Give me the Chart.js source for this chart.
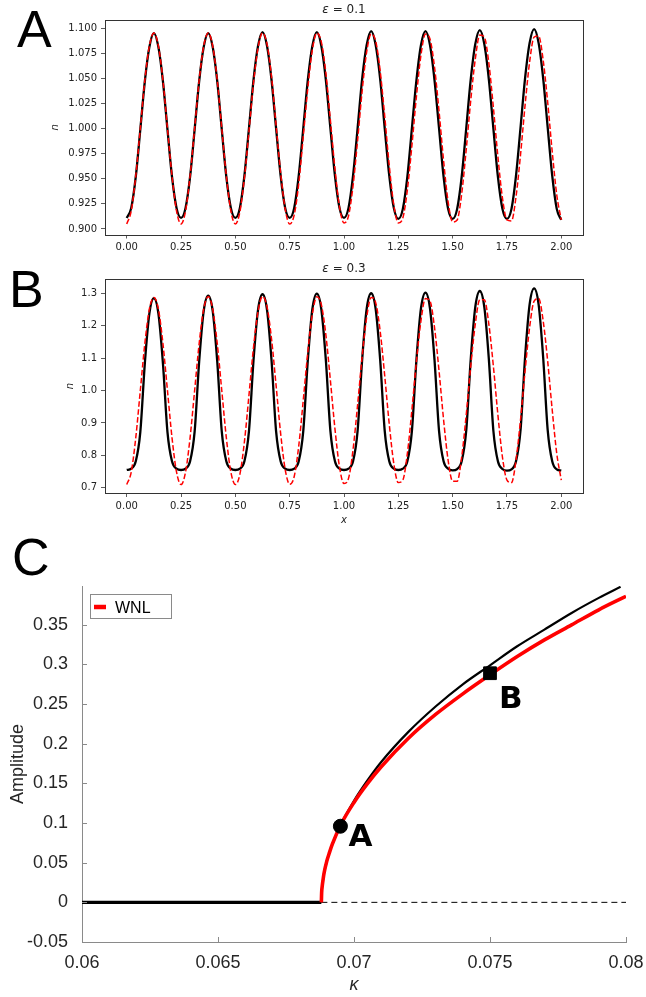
<!DOCTYPE html>
<html>
<head>
<meta charset="utf-8">
<script src="https://cdn.jsdelivr.net/npm/chart.js@4.4.1/dist/chart.umd.min.js"></script>
<style>
    html, body { margin: 0; padding: 0; background: #fff; }
    body { width: 646px; height: 997px; position: relative; overflow: hidden; }
    .panel { position: absolute; left: 0; width: 646px; }
    .letter { position: absolute; font-family: "Liberation Sans", Arial, sans-serif; font-size: 52px; line-height: 52px; color: #000; }
</style>
</head>
<body>
<div class="panel" style="top:0;height:258px"><canvas id="chartA"></canvas></div>
<div class="panel" style="top:258px;height:272px"><canvas id="chartB"></canvas></div>
<div class="panel" style="top:530px;height:467px"><canvas id="chartC"></canvas></div>
<div class="letter" style="left:17px;top:3px">A</div>
<div class="letter" style="left:9px;top:263px">B</div>
<div class="letter" style="left:12px;top:531px">C</div>

<script>
// =============================================
// DATA — panels A and B (n against x)
// =============================================
const xTicks = [0, 0.25, 0.5, 0.75, 1, 1.25, 1.5, 1.75, 2];
const xTickLabels = ['0.00', '0.25', '0.50', '0.75', '1.00', '1.25', '1.50', '1.75', '2.00'];

// sample positions along x, 12 per period (period 0.25)
const xGrid = Array.from({ length: 97 }, (_, i) => i / 48);

// eps = 0.1
const blackA = [
    0.911, 0.921, 0.952, 0.999, 1.047, 1.081, 1.095, 1.081, 1.047, 0.999, 0.952, 0.921,
    0.911, 0.921, 0.952, 0.999, 1.047, 1.081, 1.095, 1.081, 1.047, 0.999, 0.952, 0.921,
    0.911, 0.921, 0.953, 1.000, 1.048, 1.082, 1.096, 1.082, 1.048, 1.000, 0.953, 0.921,
    0.911, 0.921, 0.953, 1.000, 1.048, 1.082, 1.096, 1.082, 1.048, 1.000, 0.953, 0.921,
    0.911, 0.921, 0.953, 1.000, 1.049, 1.083, 1.097, 1.083, 1.049, 1.000, 0.953, 0.921,
    0.910, 0.920, 0.952, 1.000, 1.048, 1.083, 1.097, 1.083, 1.048, 1.000, 0.952, 0.920,
    0.910, 0.920, 0.952, 1.000, 1.049, 1.084, 1.098, 1.084, 1.049, 1.000, 0.952, 0.920,
    0.910, 0.920, 0.953, 1.001, 1.050, 1.085, 1.099, 1.085, 1.050, 1.001, 0.953, 0.920,
    0.909,
];
const redA = [
    0.905, 0.918, 0.953, 1.000, 1.048, 1.082, 1.095, 1.082, 1.048, 1.000, 0.953, 0.918,
    0.905, 0.918, 0.953, 1.000, 1.048, 1.082, 1.095, 1.082, 1.048, 1.000, 0.953, 0.918,
    0.905, 0.917, 0.951, 0.997, 1.045, 1.080, 1.095, 1.084, 1.051, 1.003, 0.956, 0.920,
    0.905, 0.914, 0.945, 0.992, 1.040, 1.078, 1.095, 1.086, 1.055, 1.008, 0.960, 0.922,
    0.906, 0.913, 0.943, 0.988, 1.037, 1.076, 1.094, 1.087, 1.057, 1.012, 0.963, 0.924,
    0.906, 0.911, 0.939, 0.983, 1.032, 1.073, 1.094, 1.089, 1.061, 1.017, 0.968, 0.927,
    0.907, 0.909, 0.935, 0.979, 1.028, 1.069, 1.093, 1.091, 1.065, 1.021, 0.972, 0.931,
    0.909, 0.908, 0.932, 0.974, 1.023, 1.066, 1.091, 1.092, 1.068, 1.026, 0.977, 0.934,
    0.909,
];
const yTicksA = [0.9, 0.925, 0.95, 0.975, 1.0, 1.025, 1.05, 1.075, 1.1];
const yTickLabelsA = ['0.900', '0.925', '0.950', '0.975', '1.000', '1.025', '1.050', '1.075', '1.100'];

// eps = 0.3
const blackB = [
    0.755, 0.759, 0.782, 0.872, 1.084, 1.237, 1.285, 1.237, 1.084, 0.872, 0.782, 0.759,
    0.755, 0.759, 0.782, 0.873, 1.089, 1.245, 1.293, 1.245, 1.089, 0.873, 0.782, 0.759,
    0.755, 0.759, 0.782, 0.874, 1.091, 1.248, 1.297, 1.248, 1.091, 0.874, 0.782, 0.759,
    0.755, 0.759, 0.782, 0.875, 1.092, 1.250, 1.299, 1.250, 1.092, 0.875, 0.782, 0.759,
    0.755, 0.759, 0.782, 0.875, 1.093, 1.251, 1.300, 1.251, 1.093, 0.875, 0.782, 0.759,
    0.755, 0.759, 0.782, 0.875, 1.094, 1.253, 1.302, 1.253, 1.094, 0.875, 0.782, 0.759,
    0.754, 0.758, 0.782, 0.876, 1.097, 1.257, 1.307, 1.257, 1.097, 0.876, 0.782, 0.758,
    0.753, 0.757, 0.782, 0.878, 1.102, 1.265, 1.315, 1.265, 1.102, 0.878, 0.782, 0.757,
    0.753,
];
const redB = [
    0.710, 0.749, 0.855, 1.000, 1.145, 1.251, 1.287, 1.251, 1.145, 1.000, 0.855, 0.749,
    0.710, 0.749, 0.855, 1.000, 1.145, 1.251, 1.290, 1.251, 1.145, 1.000, 0.855, 0.749,
    0.710, 0.742, 0.842, 0.985, 1.132, 1.243, 1.290, 1.258, 1.158, 1.015, 0.868, 0.757,
    0.711, 0.735, 0.829, 0.970, 1.118, 1.235, 1.289, 1.265, 1.171, 1.030, 0.882, 0.765,
    0.713, 0.729, 0.818, 0.955, 1.104, 1.225, 1.287, 1.271, 1.182, 1.045, 0.896, 0.775,
    0.716, 0.724, 0.806, 0.940, 1.090, 1.215, 1.284, 1.276, 1.194, 1.060, 0.910, 0.785,
    0.720, 0.720, 0.795, 0.925, 1.075, 1.205, 1.280, 1.280, 1.205, 1.075, 0.925, 0.795,
    0.724, 0.716, 0.785, 0.910, 1.060, 1.194, 1.276, 1.284, 1.215, 1.090, 0.940, 0.806,
    0.724,
];
const yTicksB = [0.7, 0.8, 0.9, 1.0, 1.1, 1.2, 1.3];
const yTickLabelsB = ['0.7', '0.8', '0.9', '1.0', '1.1', '1.2', '1.3'];

// =============================================
// DATA — panel C (amplitude against kappa)
// =============================================
const kappaStable = [0.06, 0.0688];
const ampStable = [0, 0];
const kappaUnstable = [0.0688, 0.08];
const ampUnstable = [0, 0];

const kappaNum = [0.0688, 0.06881, 0.06883, 0.06886, 0.0689, 0.069, 0.0691, 0.0692, 0.0695, 0.07, 0.0705,
                  0.071, 0.072, 0.073, 0.074, 0.075, 0.076, 0.077, 0.078, 0.079, 0.0798];
const ampNum = [0, 0.012, 0.020, 0.028, 0.037, 0.052, 0.063, 0.073, 0.097, 0.128, 0.154,
                0.177, 0.215, 0.247, 0.275, 0.299, 0.323, 0.344, 0.365, 0.384, 0.398];

const kappaWNL = [0.0688, 0.06881, 0.06883, 0.06886, 0.0689, 0.069, 0.0691, 0.0692, 0.0695, 0.07, 0.0705,
                  0.071, 0.072, 0.073, 0.074, 0.075, 0.076, 0.077, 0.078, 0.079, 0.08];
const ampWNL = [0, 0.012, 0.020, 0.028, 0.037, 0.052, 0.063, 0.073, 0.097, 0.126, 0.150,
                0.171, 0.207, 0.237, 0.263, 0.287, 0.310, 0.331, 0.350, 0.369, 0.386];

const markerKappa = [0.0695, 0.075];
const markerAmp = [0.096, 0.289];
const markerLabels = ['A', 'B'];

const kappaTicks = [0.06, 0.065, 0.07, 0.075, 0.08];
const kappaTickLabels = ['0.06', '0.065', '0.07', '0.075', '0.08'];
const ampTicks = [-0.05, 0, 0.05, 0.1, 0.15, 0.2, 0.25, 0.3, 0.35];
const ampTickLabels = ['-0.05', '0', '0.05', '0.1', '0.15', '0.2', '0.25', '0.3', '0.35'];

const pts = (xs, ys) => ys.map((y, i) => ({ x: xs[i], y }));

// =============================================
// PLUGINS
// =============================================
// matplotlib-like box round the axes
const framePlugin = {
    id: 'frame',
    afterDraw(chart, args, o) {
        if (!o.display) return;
        const { ctx, chartArea: a } = chart;
        ctx.save();
        ctx.strokeStyle = o.color;
        ctx.lineWidth = 1;
        ctx.strokeRect(Math.round(a.left) + 0.5, Math.round(a.top) + 0.5,
            Math.round(a.right - a.left), Math.round(a.bottom - a.top));
        ctx.restore();
    },
};

// "ε = 0.1" style title, centred over the plot area
const epsTitle = {
    id: 'epsTitle',
    afterDraw(chart, args, o) {
        if (!o.symbol) return;
        const { ctx, chartArea: a } = chart;
        ctx.save();
        ctx.fillStyle = '#222';
        ctx.textBaseline = 'middle';
        ctx.font = 'italic 12px "DejaVu Sans"';
        const w1 = ctx.measureText(o.symbol).width;
        ctx.font = '12px "DejaVu Sans"';
        const w2 = ctx.measureText(o.rest).width;
        let x = (a.left + a.right) / 2 - (w1 + w2) / 2;
        const y = a.top - 10;
        ctx.font = 'italic 12px "DejaVu Sans"';
        ctx.fillText(o.symbol, x, y);
        ctx.font = '12px "DejaVu Sans"';
        ctx.fillText(o.rest, x + w1, y);
        ctx.restore();
    },
};

// MATLAB-like inward ticks, boxed legend and point labels
const matlabExtras = {
    id: 'matlabExtras',
    afterDraw(chart, args, o) {
        if (!o.display) return;
        const { ctx, chartArea: a, scales: { x, y } } = chart;
        ctx.save();
        ctx.strokeStyle = o.tickColor;
        ctx.lineWidth = 1;
        ctx.beginPath();
        x.ticks.forEach(t => {
            const px = Math.round(x.getPixelForValue(t.value)) + 0.5;
            ctx.moveTo(px, a.bottom);
            ctx.lineTo(px, a.bottom - o.tickLength);
        });
        y.ticks.forEach(t => {
            const py = Math.round(y.getPixelForValue(t.value)) + 0.5;
            ctx.moveTo(a.left, py);
            ctx.lineTo(a.left + o.tickLength, py);
        });
        ctx.stroke();

        // legend
        const lg = o.legend;
        const ds = chart.data.datasets[lg.datasetIndex];
        const lx = a.left + lg.offsetX, ly = a.top + lg.offsetY;
        ctx.fillStyle = '#fff';
        ctx.fillRect(lx, ly, lg.width, lg.height);
        ctx.strokeStyle = lg.borderColor;
        ctx.strokeRect(Math.round(lx) + 0.5, Math.round(ly) + 0.5, lg.width, lg.height);
        ctx.strokeStyle = ds.borderColor;
        ctx.lineWidth = 4.5;
        ctx.beginPath();
        ctx.moveTo(lx + 4, ly + lg.height / 2 + 1);
        ctx.lineTo(lx + 16, ly + lg.height / 2 + 1);
        ctx.stroke();
        ctx.fillStyle = '#000';
        ctx.font = '16px "Liberation Sans", Arial, sans-serif';
        ctx.textBaseline = 'alphabetic';
        ctx.fillText(ds.label, lx + 25, ly + lg.height / 2 + 6.5);

        // labels next to the marked points
        const meta = chart.getDatasetMeta(o.labels.datasetIndex);
        ctx.font = 'bold 31px "DejaVu Sans", sans-serif';
        ctx.fillStyle = '#000';
        meta.data.forEach((el, i) => {
            const off = o.labels.offsets[i];
            ctx.fillText(o.labels.text[i], el.x + off[0], el.y + off[1]);
        });
        ctx.restore();
    },
};

Chart.register(framePlugin, epsTitle, matlabExtras);
Chart.defaults.font.family = '"DejaVu Sans", sans-serif';
Chart.defaults.animation = false;

// =============================================
// PANELS A, B
// =============================================
function waveChart(id, black, red, cfg) {
    const el = document.getElementById(id);
    return new Chart(el.getContext('2d'), {
        type: 'line',
        data: {
            datasets: [
                {
                    data: pts(xGrid, black),
                    borderColor: '#000',
                    borderWidth: 2.3,
                    pointRadius: 0,
                    cubicInterpolationMode: 'monotone',
                    order: 2,
                },
                {
                    data: pts(xGrid, red),
                    borderColor: '#ff0000',
                    borderWidth: 1.5,
                    borderDash: [5.5, 2.4],
                    pointRadius: 0,
                    cubicInterpolationMode: 'monotone',
                    order: 1,
                },
            ],
        },
        options: {
            responsive: true,
            maintainAspectRatio: false,
            layout: { padding: { top: cfg.top, right: 63, left: 0, bottom: 0 } },
            plugins: {
                legend: { display: false },
                tooltip: { enabled: false },
                frame: { display: true, color: '#333' },
                epsTitle: { symbol: 'ε', rest: cfg.title },
                matlabExtras: { display: false },
            },
            scales: {
                x: {
                    type: 'linear',
                    min: -0.1,
                    max: 2.1,
                    afterBuildTicks: s => { s.ticks = xTicks.map(v => ({ value: v })); },
                    afterFit: s => { s.height = cfg.xHeight; },
                    border: { display: false },
                    grid: { drawOnChartArea: false, drawTicks: true, tickLength: 4, color: '#333', lineWidth: 0.8 },
                    ticks: {
                        font: { size: 10 }, color: '#222', padding: 3, maxRotation: 0, autoSkip: false,
                        callback: (v, i) => xTickLabels[i],
                    },
                    title: cfg.xTitle
                        ? { display: true, text: cfg.xTitle, color: '#222', font: { size: 10, style: 'italic' }, padding: { top: 0, bottom: 4 } }
                        : { display: false },
                },
                y: {
                    min: cfg.yMin,
                    max: cfg.yMax,
                    afterBuildTicks: s => { s.ticks = cfg.yTicks.map(v => ({ value: v })); },
                    afterFit: s => { s.width = 105; },
                    border: { display: false },
                    grid: { drawOnChartArea: false, drawTicks: true, tickLength: 4, color: '#333', lineWidth: 0.8 },
                    ticks: { font: { size: 10 }, color: '#222', padding: 4, callback: (v, i) => cfg.yLabels[i] },
                    title: { display: true, text: 'n', color: '#222', font: { size: 10, style: 'italic' }, padding: { top: cfg.nPad, bottom: 0 } },
                },
            },
        },
    });
}

waveChart('chartA', blackA, redA, {
    top: 20, xHeight: 23.5, title: ' = 0.1',
    yMin: 0.8945, yMax: 1.108, yTicks: yTicksA, yLabels: yTickLabelsA, nPad: 49,
});
waveChart('chartB', blackB, redB, {
    top: 21, xHeight: 37, title: ' = 0.3', xTitle: 'x',
    yMin: 0.684, yMax: 1.344, yTicks: yTicksB, yLabels: yTickLabelsB, nPad: 64,
});

// =============================================
// PANEL C
// =============================================
const matlabFont = '"Liberation Sans", Arial, sans-serif';
new Chart(document.getElementById('chartC').getContext('2d'), {
    type: 'line',
    data: {
        datasets: [
            { data: pts(kappaStable, ampStable), borderColor: '#000', borderWidth: 3.2, pointRadius: 0, order: 3 },
            { data: pts(kappaUnstable, ampUnstable), borderColor: '#000', borderWidth: 1, borderDash: [6, 4], pointRadius: 0, order: 3 },
            { data: pts(kappaNum, ampNum), borderColor: '#000', borderWidth: 2.2, pointRadius: 0, cubicInterpolationMode: 'monotone', order: 2 },
            { label: 'WNL', data: pts(kappaWNL, ampWNL), borderColor: '#ff0000', borderWidth: 3.6, pointRadius: 0, cubicInterpolationMode: 'monotone', order: 1 },
            {
                data: pts(markerKappa, markerAmp),
                showLine: false,
                pointStyle: ['circle', 'rect'],
                pointRadius: [7, 9],
                pointBackgroundColor: '#000',
                pointBorderColor: '#000',
                pointBorderWidth: 1,
                order: 0,
            },
        ],
    },
    options: {
        responsive: true,
        maintainAspectRatio: false,
        layout: { padding: { top: 56, right: 20, left: 0, bottom: 0 } },
        plugins: {
            legend: { display: false },
            tooltip: { enabled: false },
            frame: { display: false },
            epsTitle: { symbol: null },
            matlabExtras: {
                display: true,
                tickLength: 5,
                tickColor: '#8a8a8a',
                legend: { datasetIndex: 3, offsetX: 8, offsetY: 8, width: 81, height: 24, borderColor: '#8a8a8a' },
                labels: { datasetIndex: 4, text: markerLabels, offsets: [[8, 20], [9, 35]] },
            },
        },
        scales: {
            x: {
                type: 'linear',
                min: 0.06,
                max: 0.08,
                afterBuildTicks: s => { s.ticks = kappaTicks.map(v => ({ value: v })); },
                afterFit: s => { s.height = 55; },
                border: { display: true, color: '#8a8a8a', width: 1 },
                grid: { display: false },
                ticks: { font: { family: matlabFont, size: 18 }, color: '#262626', padding: 2, maxRotation: 0, autoSkip: false,
                         callback: (v, i) => kappaTickLabels[i] },
                title: { display: true, text: 'κ', color: '#262626', font: { family: matlabFont, size: 18, style: 'italic' }, padding: { top: 0, bottom: 1 } },
            },
            y: {
                min: -0.05,
                max: 0.399,
                afterBuildTicks: s => { s.ticks = ampTicks.map(v => ({ value: v })); },
                afterFit: s => { s.width = 82; },
                border: { display: true, color: '#8a8a8a', width: 1 },
                grid: { display: false },
                ticks: { font: { family: matlabFont, size: 18 }, color: '#262626', padding: 6, callback: (v, i) => ampTickLabels[i] },
                title: { display: true, text: 'Amplitude', color: '#262626', font: { family: matlabFont, size: 18 }, padding: { top: 7, bottom: 0 } },
            },
        },
    },
});
</script>
</body>
</html>
